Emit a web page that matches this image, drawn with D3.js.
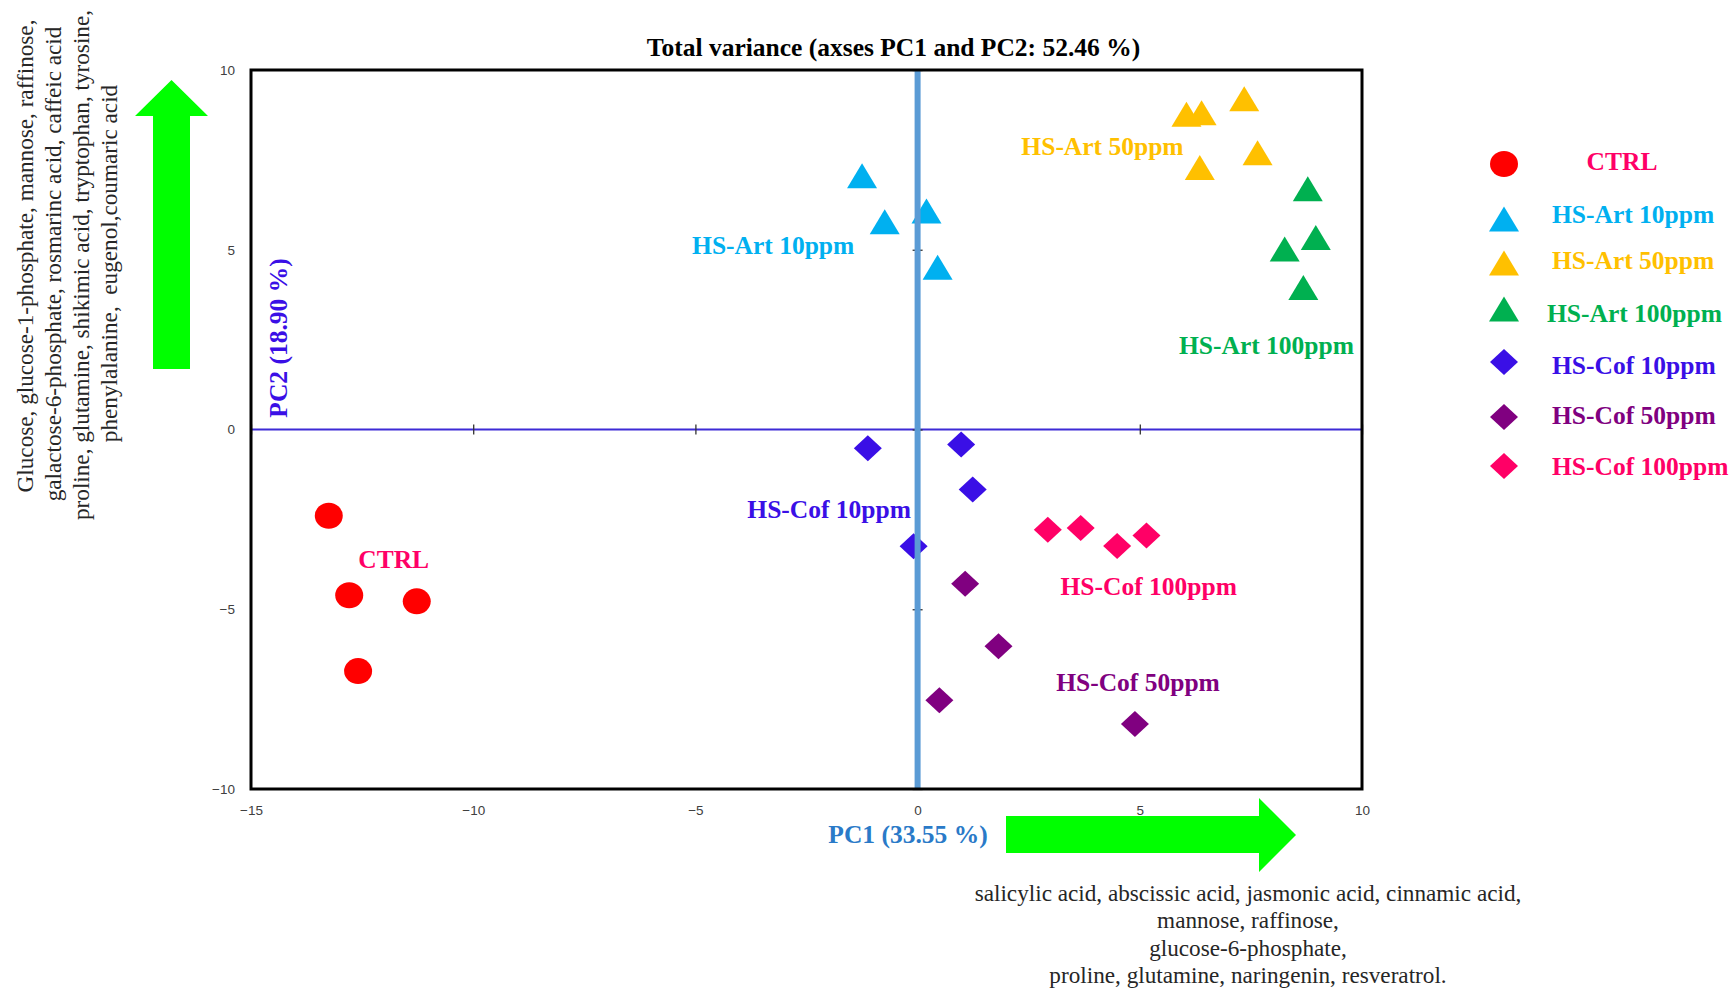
<!DOCTYPE html>
<html>
<head>
<meta charset="utf-8">
<script src="https://cdn.jsdelivr.net/npm/d3@7"></script>
<style>
  html, body { margin: 0; padding: 0; background: #ffffff; }
  svg { display: block; }
</style>
</head>
<body>
<svg id="chart" width="1733" height="991"></svg>
<script>
// ---- Scores of each sample on PC1 / PC2 ----
const groupNames = ["CTRL", "HS-Art 10ppm", "HS-Art 50ppm", "HS-Art 100ppm",
                    "HS-Cof 10ppm", "HS-Cof 50ppm", "HS-Cof 100ppm"];

const ctrlPC1 = [-13.25, -12.79, -11.27, -12.59];
const ctrlPC2 = [-2.40, -4.61, -4.78, -6.72];

const art10PC1 = [-1.25, -0.74, 0.20, 0.45];
const art10PC2 = [7.06, 5.78, 6.08, 4.51];

const art50PC1 = [6.05, 6.39, 7.35, 7.65, 6.35];
const art50PC2 = [8.77, 8.81, 9.20, 7.70, 7.29];

const art100PC1 = [8.78, 8.96, 8.26, 8.68];
const art100PC2 = [6.70, 5.34, 5.02, 3.95];

const cof10PC1 = [-1.12, 0.98, 1.24, -0.09];
const cof10PC2 = [-0.52, -0.42, -1.67, -3.25];

const cof50PC1 = [1.07, 1.82, 0.49, 4.89];
const cof50PC2 = [-4.29, -6.03, -7.53, -8.19];

const cof100PC1 = [2.93, 3.67, 4.49, 5.15];
const cof100PC2 = [-2.79, -2.74, -3.24, -2.95];

const pc1Ticks = [-15, -10, -5, 0, 5, 10];
const pc2Ticks = [-10, -5, 0, 5, 10];

const chartTitle = "Total variance (axses PC1 and PC2: 52.46 %)";
const pc1Title = "PC1 (33.55 %)";
const pc2Title = "PC2 (18.90 %)";

const pc2Compounds = [
  "Glucose, glucose-1-phosphate, mannose, raffinose,",
  "galactose-6-phosphate, rosmarinc acid, caffeic acid",
  "proline, glutamine, shikimic acid, tryptophan, tyrosine,",
  "phenylalanine,  eugenol,coumaric acid"
];
const pc1Compounds = [
  "salicylic acid, abscissic acid, jasmonic acid, cinnamic acid,",
  "mannose, raffinose,",
  "glucose-6-phosphate,",
  "proline, glutamine, naringenin, resveratrol."
];

// ---- Styling per group ----
const markerColor = ["#ff0000", "#00b0f0", "#ffc000", "#00b050", "#3a0fe6", "#800080", "#ff0066"];
const textColor   = ["#ff0066", "#00b0f0", "#ffc000", "#00b050", "#3a0fe6", "#800080", "#ff0066"];
const shapeKind   = ["circle", "triangle", "triangle", "triangle", "diamond", "diamond", "diamond"];

// Cluster annotations inside the plot: [PC1, PC2] of label centre / baseline
const clusterLabelPos = [
  [-11.79, -3.86], [-3.25, 4.89], [4.16, 7.64], [7.85, 2.11],
  [-1.99, -2.47], [4.96, -7.28], [5.20, -4.61]
];

const series = [
  [ctrlPC1, ctrlPC2], [art10PC1, art10PC2], [art50PC1, art50PC2], [art100PC1, art100PC2],
  [cof10PC1, cof10PC2], [cof50PC1, cof50PC2], [cof100PC1, cof100PC2]
];

// ---- Layout ----
const plot = { left: 251, right: 1362, top: 70, bottom: 789 };
const serif = "'Liberation Serif', 'Times New Roman', serif";
const sans = "'Liberation Sans', Arial, sans-serif";
const labelSize = 25.5;
const noteSize = 23.2;

const svg = d3.select("#chart");
svg.append("rect").attr("width", 1733).attr("height", 991).attr("fill", "#ffffff");

const x = d3.scaleLinear().domain([-15, 10]).range([plot.left, plot.right]);
const y = d3.scaleLinear().domain([-10, 10]).range([plot.bottom, plot.top]);

// Title
svg.append("text")
  .attr("x", (x(-15) + x(10)) / 2 + 87).attr("y", 56)
  .attr("text-anchor", "middle")
  .attr("font-family", serif).attr("font-weight", "bold").attr("font-size", labelSize)
  .attr("fill", "#000").text(chartTitle);

// Tick labels along the plot frame
const xLabels = svg.append("g")
  .attr("transform", `translate(0,${plot.bottom})`)
  .call(d3.axisBottom(x).tickValues(pc1Ticks).tickSize(0).tickPadding(16));
const yLabels = svg.append("g")
  .attr("transform", `translate(${plot.left},0)`)
  .call(d3.axisLeft(y).tickValues(pc2Ticks).tickSize(0).tickPadding(16));
[xLabels, yLabels].forEach(g => {
  g.select(".domain").remove();
  g.selectAll("text").attr("font-family", sans).attr("font-size", 13.5).attr("fill", "#404040");
});

// Zero line with its tick marks (PC2 = 0)
svg.append("line")
  .attr("x1", plot.left).attr("x2", plot.right)
  .attr("y1", y(0)).attr("y2", y(0))
  .attr("stroke", "#3d2bd6").attr("stroke-width", 2);
const xTicks = svg.append("g")
  .attr("transform", `translate(0,${y(0)})`)
  .call(d3.axisBottom(x).tickValues(pc1Ticks).tickFormat("").tickSize(5));
xTicks.select(".domain").remove();
xTicks.selectAll(".tick line").attr("y1", -5).attr("y2", 5).attr("stroke", "#333").attr("stroke-width", 1.3);

// Markers
const markerPath = (kind) => {
  const p = d3.path();
  if (kind === "triangle") {
    p.moveTo(0, -12.5); p.lineTo(15, 12.5); p.lineTo(-15, 12.5); p.closePath();
  } else {
    p.moveTo(0, -13); p.lineTo(14, 0); p.lineTo(0, 13); p.lineTo(-14, 0); p.closePath();
  }
  return p.toString();
};
const drawMarker = (g, kind, color) => {
  if (kind === "circle") {
    g.append("ellipse").attr("rx", 14).attr("ry", 13).attr("fill", color);
  } else {
    g.append("path").attr("d", markerPath(kind)).attr("fill", color);
  }
};

series.forEach(([xs, ys], i) => {
  const g = svg.append("g").attr("class", "series");
  xs.forEach((px, j) => {
    const m = g.append("g").attr("transform", `translate(${x(px)},${y(ys[j])})`);
    drawMarker(m, shapeKind[i], markerColor[i]);
  });
});

// Zero line PC1 = 0 with its tick marks
const yTicks = svg.append("g")
  .attr("transform", `translate(${x(0)},0)`)
  .call(d3.axisLeft(y).tickValues(pc2Ticks).tickFormat("").tickSize(5));
yTicks.select(".domain").remove();
yTicks.selectAll(".tick line").attr("x1", -5).attr("x2", 5).attr("stroke", "#333").attr("stroke-width", 1.3);
svg.append("line")
  .attr("x1", x(0)).attr("x2", x(0))
  .attr("y1", plot.top).attr("y2", plot.bottom)
  .attr("stroke", "#5b9bd5").attr("stroke-width", 6);

// Plot frame
svg.append("rect")
  .attr("x", plot.left).attr("y", plot.top)
  .attr("width", plot.right - plot.left).attr("height", plot.bottom - plot.top)
  .attr("fill", "none").attr("stroke", "#000").attr("stroke-width", 3);

// Cluster labels
groupNames.forEach((name, i) => {
  svg.append("text")
    .attr("x", x(clusterLabelPos[i][0])).attr("y", y(clusterLabelPos[i][1]))
    .attr("text-anchor", "middle")
    .attr("font-family", serif).attr("font-weight", "bold").attr("font-size", labelSize)
    .attr("fill", textColor[i]).text(name);
});

// Axis titles
svg.append("text")
  .attr("transform", `translate(287,338) rotate(-90)`)
  .attr("text-anchor", "middle")
  .attr("font-family", serif).attr("font-weight", "bold").attr("font-size", labelSize)
  .attr("fill", "#3a0fe6").text(pc2Title);
svg.append("text")
  .attr("x", 908).attr("y", 843)
  .attr("text-anchor", "middle")
  .attr("font-family", serif).attr("font-weight", "bold").attr("font-size", labelSize)
  .attr("fill", "#2a7ac8").text(pc1Title);

// Direction arrows
const green = "#00ff00";
svg.append("path")
  .attr("d", "M1006,816 L1259,816 L1259,798 L1296,835 L1259,872 L1259,853 L1006,853 Z")
  .attr("fill", green);
svg.append("path")
  .attr("d", "M153,369 L153,116 L135,116 L171.5,80 L208,116 L190,116 L190,369 Z")
  .attr("fill", green);

// Compounds driving each axis
const leftBaselines = [33, 61, 89, 117];
const leftCentres = [256, 264, 265, 263.5];
pc2Compounds.forEach((line, i) => {
  svg.append("text")
    .attr("transform", `translate(${leftBaselines[i]},${leftCentres[i]}) rotate(-90)`)
    .attr("text-anchor", "middle")
    .style("white-space", "pre")
    .attr("font-family", serif).attr("font-size", noteSize)
    .attr("fill", "#262626").text(line);
});
const bottomBaselines = [901, 928, 956, 983];
pc1Compounds.forEach((line, i) => {
  svg.append("text")
    .attr("x", 1248).attr("y", bottomBaselines[i])
    .attr("text-anchor", "middle")
    .style("white-space", "pre")
    .attr("font-family", serif).attr("font-size", noteSize)
    .attr("fill", "#262626").text(line);
});

// Legend
const legendMarkerY = [164, 219, 263, 309, 362, 417, 466];
const legendTextY   = [170, 223, 269, 322, 374, 424, 475];
const legendTextX   = [1622, 1552, 1552, 1547, 1552, 1552, 1552];
const legendAnchor  = ["middle", "start", "start", "start", "start", "start", "start"];
groupNames.forEach((name, i) => {
  const m = svg.append("g").attr("transform", `translate(1504,${legendMarkerY[i]})`);
  drawMarker(m, shapeKind[i], markerColor[i]);
  svg.append("text")
    .attr("x", legendTextX[i]).attr("y", legendTextY[i])
    .attr("text-anchor", legendAnchor[i])
    .attr("font-family", serif).attr("font-weight", "bold").attr("font-size", labelSize)
    .attr("fill", textColor[i]).text(name);
});
</script>
</body>
</html>
